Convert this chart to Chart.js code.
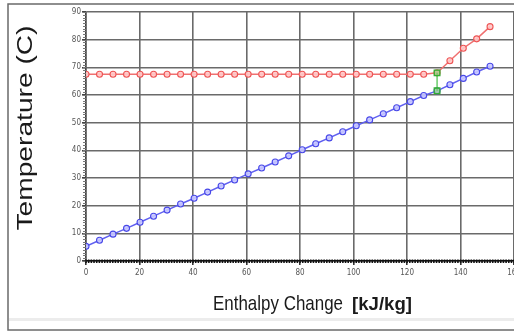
<!DOCTYPE html>
<html><head><meta charset="utf-8">
<script src="https://cdn.jsdelivr.net/npm/chart.js@4.4.1/dist/chart.umd.min.js"></script>
<style>
html,body{margin:0;padding:0;background:#fff;overflow:hidden;width:514px;height:334px}
#wrap{position:relative;width:524px;height:334px}
</style></head>
<body><div id="wrap"><canvas id="c"></canvas></div>
<script>
// ---- data ----
const enthalpy = [0, 5.05, 10.1, 15.15, 20.2, 25.25, 30.3, 35.35, 40.4, 45.45, 50.5, 55.55, 60.6, 65.65, 70.7, 75.75, 80.8, 85.85, 90.9, 95.95, 101, 106, 111.1, 116.1, 121.2, 126.2, 131.2, 136, 141, 146, 151];
const hotTemp = [67.5, 67.5, 67.5, 67.5, 67.5, 67.5, 67.5, 67.5, 67.5, 67.5, 67.5, 67.5, 67.5, 67.5, 67.5, 67.5, 67.5, 67.5, 67.5, 67.5, 67.5, 67.5, 67.5, 67.5, 67.5, 67.5, 68, 72.4, 76.9, 80.3, 84.7];
const coldTemp = [5.3, 7.5, 9.7, 11.8, 14.0, 16.2, 18.4, 20.6, 22.7, 24.9, 27.1, 29.3, 31.5, 33.6, 35.8, 38.0, 40.2, 42.4, 44.5, 46.7, 48.9, 51.0, 53.2, 55.4, 57.6, 59.8, 61.5, 63.7, 66.0, 68.3, 70.4];
const pinchEnthalpy = [131.2, 131.2];
const pinchTemp = [68, 61.5];
const xTickValues = [0, 20, 40, 60, 80, 100, 120, 140, 160];
const yTickValues = [0, 10, 20, 30, 40, 50, 60, 70, 80, 90];
const yTitle = 'Temperature (C)';
const xTitleMain = 'Enthalpy Change';
const xTitleUnit = '[kJ/kg]';

const pts = (xs, ys) => xs.map((x, i) => ({x: x, y: ys[i]}));
const tickFont = {family: "'Liberation Sans Narrow','DejaVu Sans Condensed','Arial Narrow',sans-serif", size: 8};

function fitText(ctx, text, font, x, y, targetW, rotate, align) {
  ctx.save();
  ctx.font = font;
  const w = ctx.measureText(text).width;
  const s = targetW / w;
  ctx.translate(x, y);
  if (rotate) ctx.rotate(-Math.PI / 2);
  ctx.scale(s, 1);
  ctx.textAlign = align || 'left';
  ctx.textBaseline = 'alphabetic';
  ctx.fillStyle = '#1a1a1a';
  ctx.fillText(text, 0, 0);
  ctx.restore();
}

const decor = {
  id: 'decor',
  beforeDraw(chart) {
    const ctx = chart.ctx;
    ctx.save();
    ctx.fillStyle = '#fff';
    ctx.fillRect(0, 0, chart.width, chart.height);
    ctx.fillStyle = '#ececec';
    ctx.fillRect(9, 318, chart.width, 3);
    ctx.strokeStyle = '#6a6a6a';
    ctx.lineWidth = 1.5;
    ctx.strokeRect(8, 4, chart.width + 20, 326);
    ctx.restore();
  },
  afterDraw(chart) {
    const ctx = chart.ctx;
    const xs = chart.scales.x, ys = chart.scales.y;
    ctx.save();
    ctx.strokeStyle = '#777';
    ctx.lineWidth = 1;
    for (let v = 0; v <= 90; v++) {
      const py = Math.round(ys.getPixelForValue(v)) + 0.5;
      ctx.beginPath();
      ctx.moveTo(xs.left - 3, py);
      ctx.lineTo(xs.left, py);
      ctx.stroke();
    }
    ctx.strokeStyle = '#111';
    ctx.lineWidth = 1.6;
    for (let v = 0; v <= 160; v++) {
      const px = xs.getPixelForValue(v);
      ctx.beginPath();
      ctx.moveTo(px, ys.bottom - 1.5);
      ctx.lineTo(px, ys.bottom + 2);
      ctx.stroke();
    }
    ctx.restore();
    fitText(ctx, yTitle, '22px "Liberation Sans", Arial, sans-serif', 32, 128, 205, true, 'center');
    fitText(ctx, xTitleMain, '21px "Liberation Sans", Arial, sans-serif', 213, 310, 130, false, 'left');
    fitText(ctx, xTitleUnit, 'bold 19px "Liberation Sans", Arial, sans-serif', 352, 310, 60, false, 'left');
  }
};

new Chart(document.getElementById('c'), {
  type: 'line',
  data: {
    datasets: [
      {
        label: 'Pinch', data: pts(pinchEnthalpy, pinchTemp), order: 0,
        borderColor: '#44c044', borderWidth: 1.2,
        pointStyle: 'rect', pointRadius: 4, pointBorderWidth: 1.3,
        pointBorderColor: '#33b033', pointBackgroundColor: 'rgba(130,200,110,0.55)'
      },
      {
        label: 'Hot', data: pts(enthalpy, hotTemp), order: 1,
        borderColor: '#f07070', borderWidth: 1.5,
        pointStyle: 'circle', pointRadius: 3, pointBorderWidth: 1.1,
        pointBorderColor: '#ee5555', pointBackgroundColor: 'rgba(255,200,200,0.9)'
      },
      {
        label: 'Cold', data: pts(enthalpy, coldTemp), order: 2,
        borderColor: '#6060f0', borderWidth: 1.5,
        pointStyle: 'circle', pointRadius: 3, pointBorderWidth: 1.1,
        pointBorderColor: '#4848e8', pointBackgroundColor: 'rgba(200,200,255,0.9)'
      }
    ]
  },
  options: {
    responsive: true, maintainAspectRatio: false, devicePixelRatio: 1, animation: false,
    layout: {padding: {left: 0, top: 12, right: 0, bottom: 0}},
    plugins: {legend: {display: false}, tooltip: {enabled: false}, title: {display: false}},
    scales: {
      x: {
        type: 'linear', min: 0, max: 160,
        afterBuildTicks: s => { s.ticks = xTickValues.map(v => ({value: v})); },
        afterFit: s => { s.height = 73; },
        ticks: {font: tickFont, color: '#555', padding: 3, maxRotation: 0, autoSkip: false},
        grid: {color: '#6a6a6a', lineWidth: 1.6, tickLength: 4, tickColor: '#333'},
        border: {color: '#111', width: 1.5}
      },
      y: {
        type: 'linear', min: 0, max: 90,
        afterBuildTicks: s => { s.ticks = yTickValues.map(v => ({value: v})); },
        afterFit: s => { s.width = 86; },
        ticks: {font: tickFont, color: '#555', padding: 1},
        grid: {color: '#6a6a6a', lineWidth: 1.6, tickLength: 4, tickColor: '#444'},
        border: {color: '#444', width: 1.5}
      }
    }
  },
  plugins: [decor]
});
</script>
</body></html>
